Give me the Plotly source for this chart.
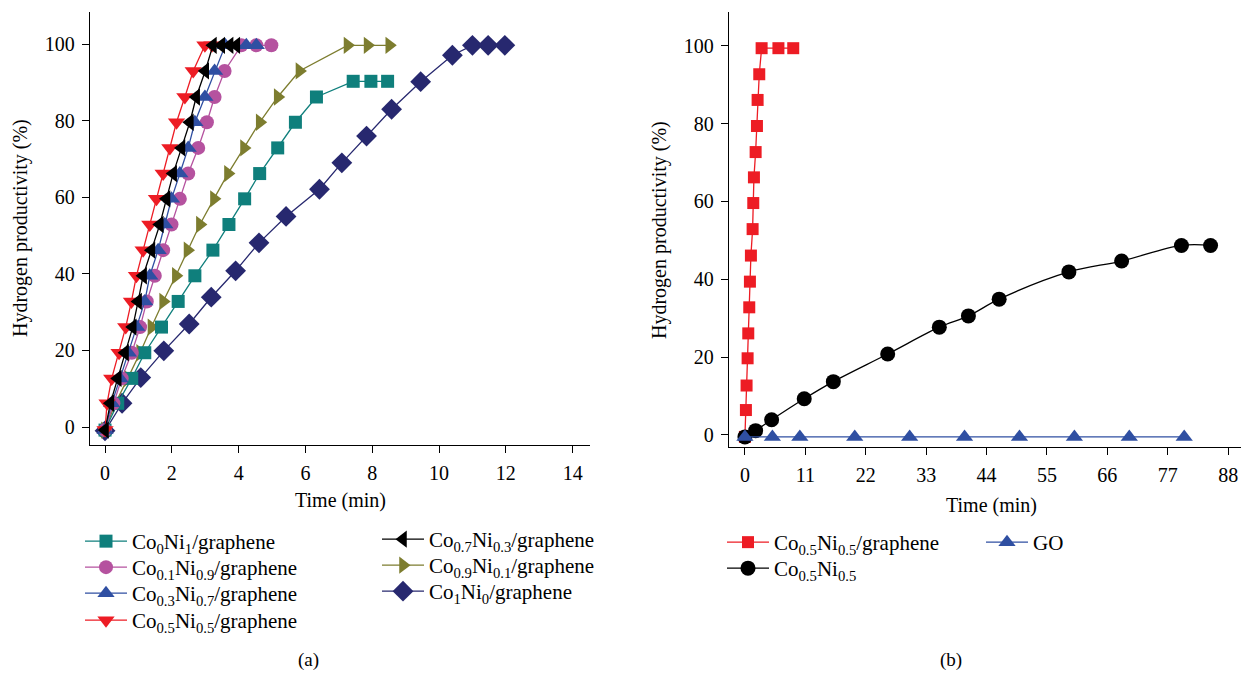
import plotly.graph_objects as go

# ---------------- data: panel (a) ----------------
t_co0ni1 = [0, 0.38, 0.8, 1.19, 1.69, 2.19, 2.69, 3.23, 3.71, 4.18, 4.63, 5.17, 5.70, 6.33, 7.43, 7.96, 8.46]
y_co0ni1 = [-0.8, 6.2, 12.7, 19.4, 26.1, 32.8, 39.5, 46.2, 52.9, 59.6, 66.2, 72.9, 79.6, 86.2, 90.3, 90.3, 90.3]

t_co01ni09 = [0, 0.25, 0.5, 0.8, 1.05, 1.25, 1.49, 1.74, 1.99, 2.24, 2.49, 2.79, 3.05, 3.28, 3.58, 4.08, 4.53, 4.98]
y_co01ni09 = [-0.8, 6.2, 12.7, 19.4, 26.1, 32.8, 39.5, 46.2, 52.9, 59.6, 66.2, 72.9, 79.6, 86.2, 93.0, 99.7, 99.7, 99.7]

t_co03ni07 = [0, 0.2, 0.45, 0.7, 0.95, 1.19, 1.34, 1.59, 1.79, 1.99, 2.24, 2.49, 2.69, 2.99, 3.28, 3.6, 4.23, 4.53]
y_co03ni07 = [-0.8, 6.2, 12.7, 19.4, 26.1, 32.8, 39.5, 46.2, 52.9, 59.6, 66.2, 72.9, 79.6, 86.2, 93.0, 99.7, 99.7, 99.7]

t_co05ni05 = [0, 0.06, 0.2, 0.42, 0.62, 0.79, 0.94, 1.14, 1.34, 1.54, 1.74, 1.94, 2.14, 2.39, 2.64, 2.99, 3.2]
y_co05ni05 = [-0.8, 6.2, 12.7, 19.4, 26.1, 32.8, 39.5, 46.2, 52.9, 59.6, 66.2, 72.9, 79.6, 86.2, 93.0, 99.7, 99.7]

t_co07ni03 = [0, 0.16, 0.38, 0.6, 0.83, 0.99, 1.14, 1.39, 1.64, 1.84, 2.04, 2.29, 2.54, 2.73, 3.0, 3.23, 3.48, 3.73, 3.93]
y_co07ni03 = [-0.8, 6.2, 12.7, 19.4, 26.1, 32.8, 39.5, 46.2, 52.9, 59.6, 66.2, 72.9, 79.6, 86.2, 93.0, 99.7, 99.7, 99.7, 99.7]

t_co09ni01 = [0, 0.31, 0.68, 1.05, 1.39, 1.74, 2.12, 2.47, 2.84, 3.26, 3.68, 4.16, 4.63, 5.17, 5.82, 7.26, 7.86, 8.51]
y_co09ni01 = [-0.8, 6.2, 12.7, 19.4, 26.1, 32.8, 39.5, 46.2, 52.9, 59.6, 66.2, 72.9, 79.6, 86.2, 93.0, 99.7, 99.7, 99.7]

t_co1ni0 = [0, 0.51, 1.07, 1.76, 2.52, 3.18, 3.91, 4.61, 5.42, 6.42, 7.09, 7.83, 8.58, 9.45, 10.4, 11.0, 11.47, 11.97]
y_co1ni0 = [-1.0, 6.2, 12.9, 19.9, 26.9, 33.9, 40.8, 48.1, 55.0, 62.1, 69.0, 76.0, 83.0, 90.2, 97.1, 99.7, 99.7, 99.7]

# ---------------- data: panel (b) ----------------
t_b_graphene = [0, 0.18, 0.3, 0.49, 0.61, 0.79, 0.91, 1.09, 1.4, 1.52, 1.64, 1.95, 2.19, 2.31, 2.61, 3.04, 6.1, 8.8]
y_b_graphene = [-0.5, 6.4, 12.7, 19.7, 26.1, 32.8, 39.4, 46.1, 52.9, 59.6, 66.2, 72.7, 79.4, 86.1, 92.7, 99.4, 99.4, 99.4]

t_b_coni = [0, 1.95, 4.86, 10.8, 16.1, 26.0, 35.4, 40.7, 46.3, 59.0, 68.6, 79.5, 84.8]
y_b_coni = [-0.5, 1.1, 3.9, 9.3, 13.7, 20.8, 27.7, 30.6, 34.9, 41.9, 44.7, 48.7, 48.7]

t_b_go = [0, 5, 10, 20, 30, 40, 50, 60, 70, 80]
y_b_go = [-0.5, -0.5, -0.5, -0.5, -0.5, -0.5, -0.5, -0.5, -0.5, -0.5]

x_ticks_a = [0, 2, 4, 6, 8, 10, 12, 14]
x_ticks_b = [0, 11, 22, 33, 44, 55, 66, 77, 88]
y_ticks = [0, 20, 40, 60, 80, 100]

FONT = "Liberation Serif"
OFF = 8                      # page body margin of the browser
W, H = 1249 - OFF, 673 - OFF

def px_x(p):
    return (p - OFF) / W

def px_y(p):
    return 1 - (p - OFF) / H

fig = go.Figure()

# (name, x, y, colour, symbol, size, legend left px, legend row centre px)
series_a = [
    ("Co<sub>0</sub>Ni<sub>1</sub>/graphene", t_co0ni1, y_co0ni1, "#0f7f7c", "square", 13, 80, 541),
    ("Co<sub>0.1</sub>Ni<sub>0.9</sub>/graphene", t_co01ni09, y_co01ni09, "#b5529f", "circle", 14, 80, 567),
    ("Co<sub>0.3</sub>Ni<sub>0.7</sub>/graphene", t_co03ni07, y_co03ni07, "#2f4fa2", "triangle-up", 15, 80, 593),
    ("Co<sub>0.5</sub>Ni<sub>0.5</sub>/graphene", t_co05ni05, y_co05ni05, "#ed1c24", "triangle-down", 15, 80, 620),
    ("Co<sub>0.7</sub>Ni<sub>0.3</sub>/graphene", t_co07ni03, y_co07ni03, "#000000", "triangle-left", 15, 377, 539),
    ("Co<sub>0.9</sub>Ni<sub>0.1</sub>/graphene", t_co09ni01, y_co09ni01, "#7d7d2f", "triangle-right", 15, 377, 565),
    ("Co<sub>1</sub>Ni<sub>0</sub>/graphene", t_co1ni0, y_co1ni0, "#27286f", "diamond", 16, 377, 591),
]
series_b = [
    ("Co<sub>0.5</sub>Ni<sub>0.5</sub>/graphene", t_b_graphene, y_b_graphene, "#ed1c24", "square", 12, "linear", 722, 542),
    ("Co<sub>0.5</sub>Ni<sub>0.5</sub>", t_b_coni, y_b_coni, "#000000", "circle", 15, "spline", 722, 568),
    ("GO", t_b_go, y_b_go, "#2f4fa2", "triangle-up", 15, "linear", 981, 542),
]

leg_common = dict(xanchor="left", yanchor="top", bgcolor="rgba(0,0,0,0)",
                  font=dict(family=FONT, size=21, color="black"),
                  itemwidth=42, traceorder="normal", tracegroupgap=0)
legends = {}
n = 0

draw_order = [6, 5, 0, 1, 2, 3, 4]
for i in draw_order:
    name, t, y, c, sym, sz, lx, ly = series_a[i]
    n += 1
    key = "legend" if n == 1 else f"legend{n}"
    legends[key] = dict(x=px_x(lx), y=px_y(ly - 20), **leg_common)
    fig.add_trace(go.Scatter(
        x=t, y=y, name=name, mode="lines+markers",
        line=dict(color=c, width=1.3),
        marker=dict(symbol=sym, size=sz, color=c, line=dict(width=0)),
        xaxis="x", yaxis="y", legend=key,
    ))

for name, t, y, c, sym, sz, shp, lx, ly in series_b:
    n += 1
    key = f"legend{n}"
    legends[key] = dict(x=px_x(lx), y=px_y(ly - 20), **leg_common)
    fig.add_trace(go.Scatter(
        x=t, y=y, name=name, mode="lines+markers",
        line=dict(color=c, width=1.3, shape=shp),
        marker=dict(symbol=sym, size=sz, color=c, line=dict(width=0)),
        xaxis="x2", yaxis="y2", legend=key,
    ))

axis_common = dict(
    showline=True, linecolor="black", linewidth=1.3, ticks="outside",
    ticklen=7, tickwidth=1.3, tickcolor="black", showgrid=False, zeroline=False,
    tickfont=dict(family=FONT, size=20, color="black"), mirror=False,
    ticklabelstandoff=3,
)

fig.update_layout(
    width=W, height=H,
    margin=dict(l=0, r=0, t=0, b=0),
    paper_bgcolor="white", plot_bgcolor="white",
    font=dict(family=FONT, size=20, color="black"),
    xaxis=dict(domain=[px_x(90), px_x(590)], range=[-0.45, 14.52], tickvals=x_ticks_a,
               anchor="y", **axis_common),
    yaxis=dict(domain=[px_y(445), px_y(12)], range=[-4.7, 108.4], tickvals=y_ticks,
               anchor="x", **axis_common),
    xaxis2=dict(domain=[px_x(729), px_x(1249)], range=[-2.9, 91.8], tickvals=x_ticks_b,
                anchor="y2", **axis_common),
    yaxis2=dict(domain=[px_y(447), px_y(12)], range=[-3.1, 108.7], tickvals=y_ticks,
                anchor="x2", **axis_common),
    showlegend=True,
    **legends,
)

ann = [
    ("Time (min)", 340, 500, 0, 20),
    ("Time (min)", 992, 505, 0, 20),
    ("Hydrogen productivity (%)", 20, 228, -90, 20),
    ("Hydrogen productivity (%)", 660, 230, -90, 20),
    ("(a)", 308, 660, 0, 19),
    ("(b)", 951, 660, 0, 19),
]
for text, x, y, ang, sz in ann:
    fig.add_annotation(xref="paper", yref="paper", showarrow=False,
                       xanchor="center", yanchor="middle",
                       font=dict(family=FONT, color="black", size=sz),
                       text=text, x=px_x(x), y=px_y(y), textangle=ang)

fig.write_html("out.html")
